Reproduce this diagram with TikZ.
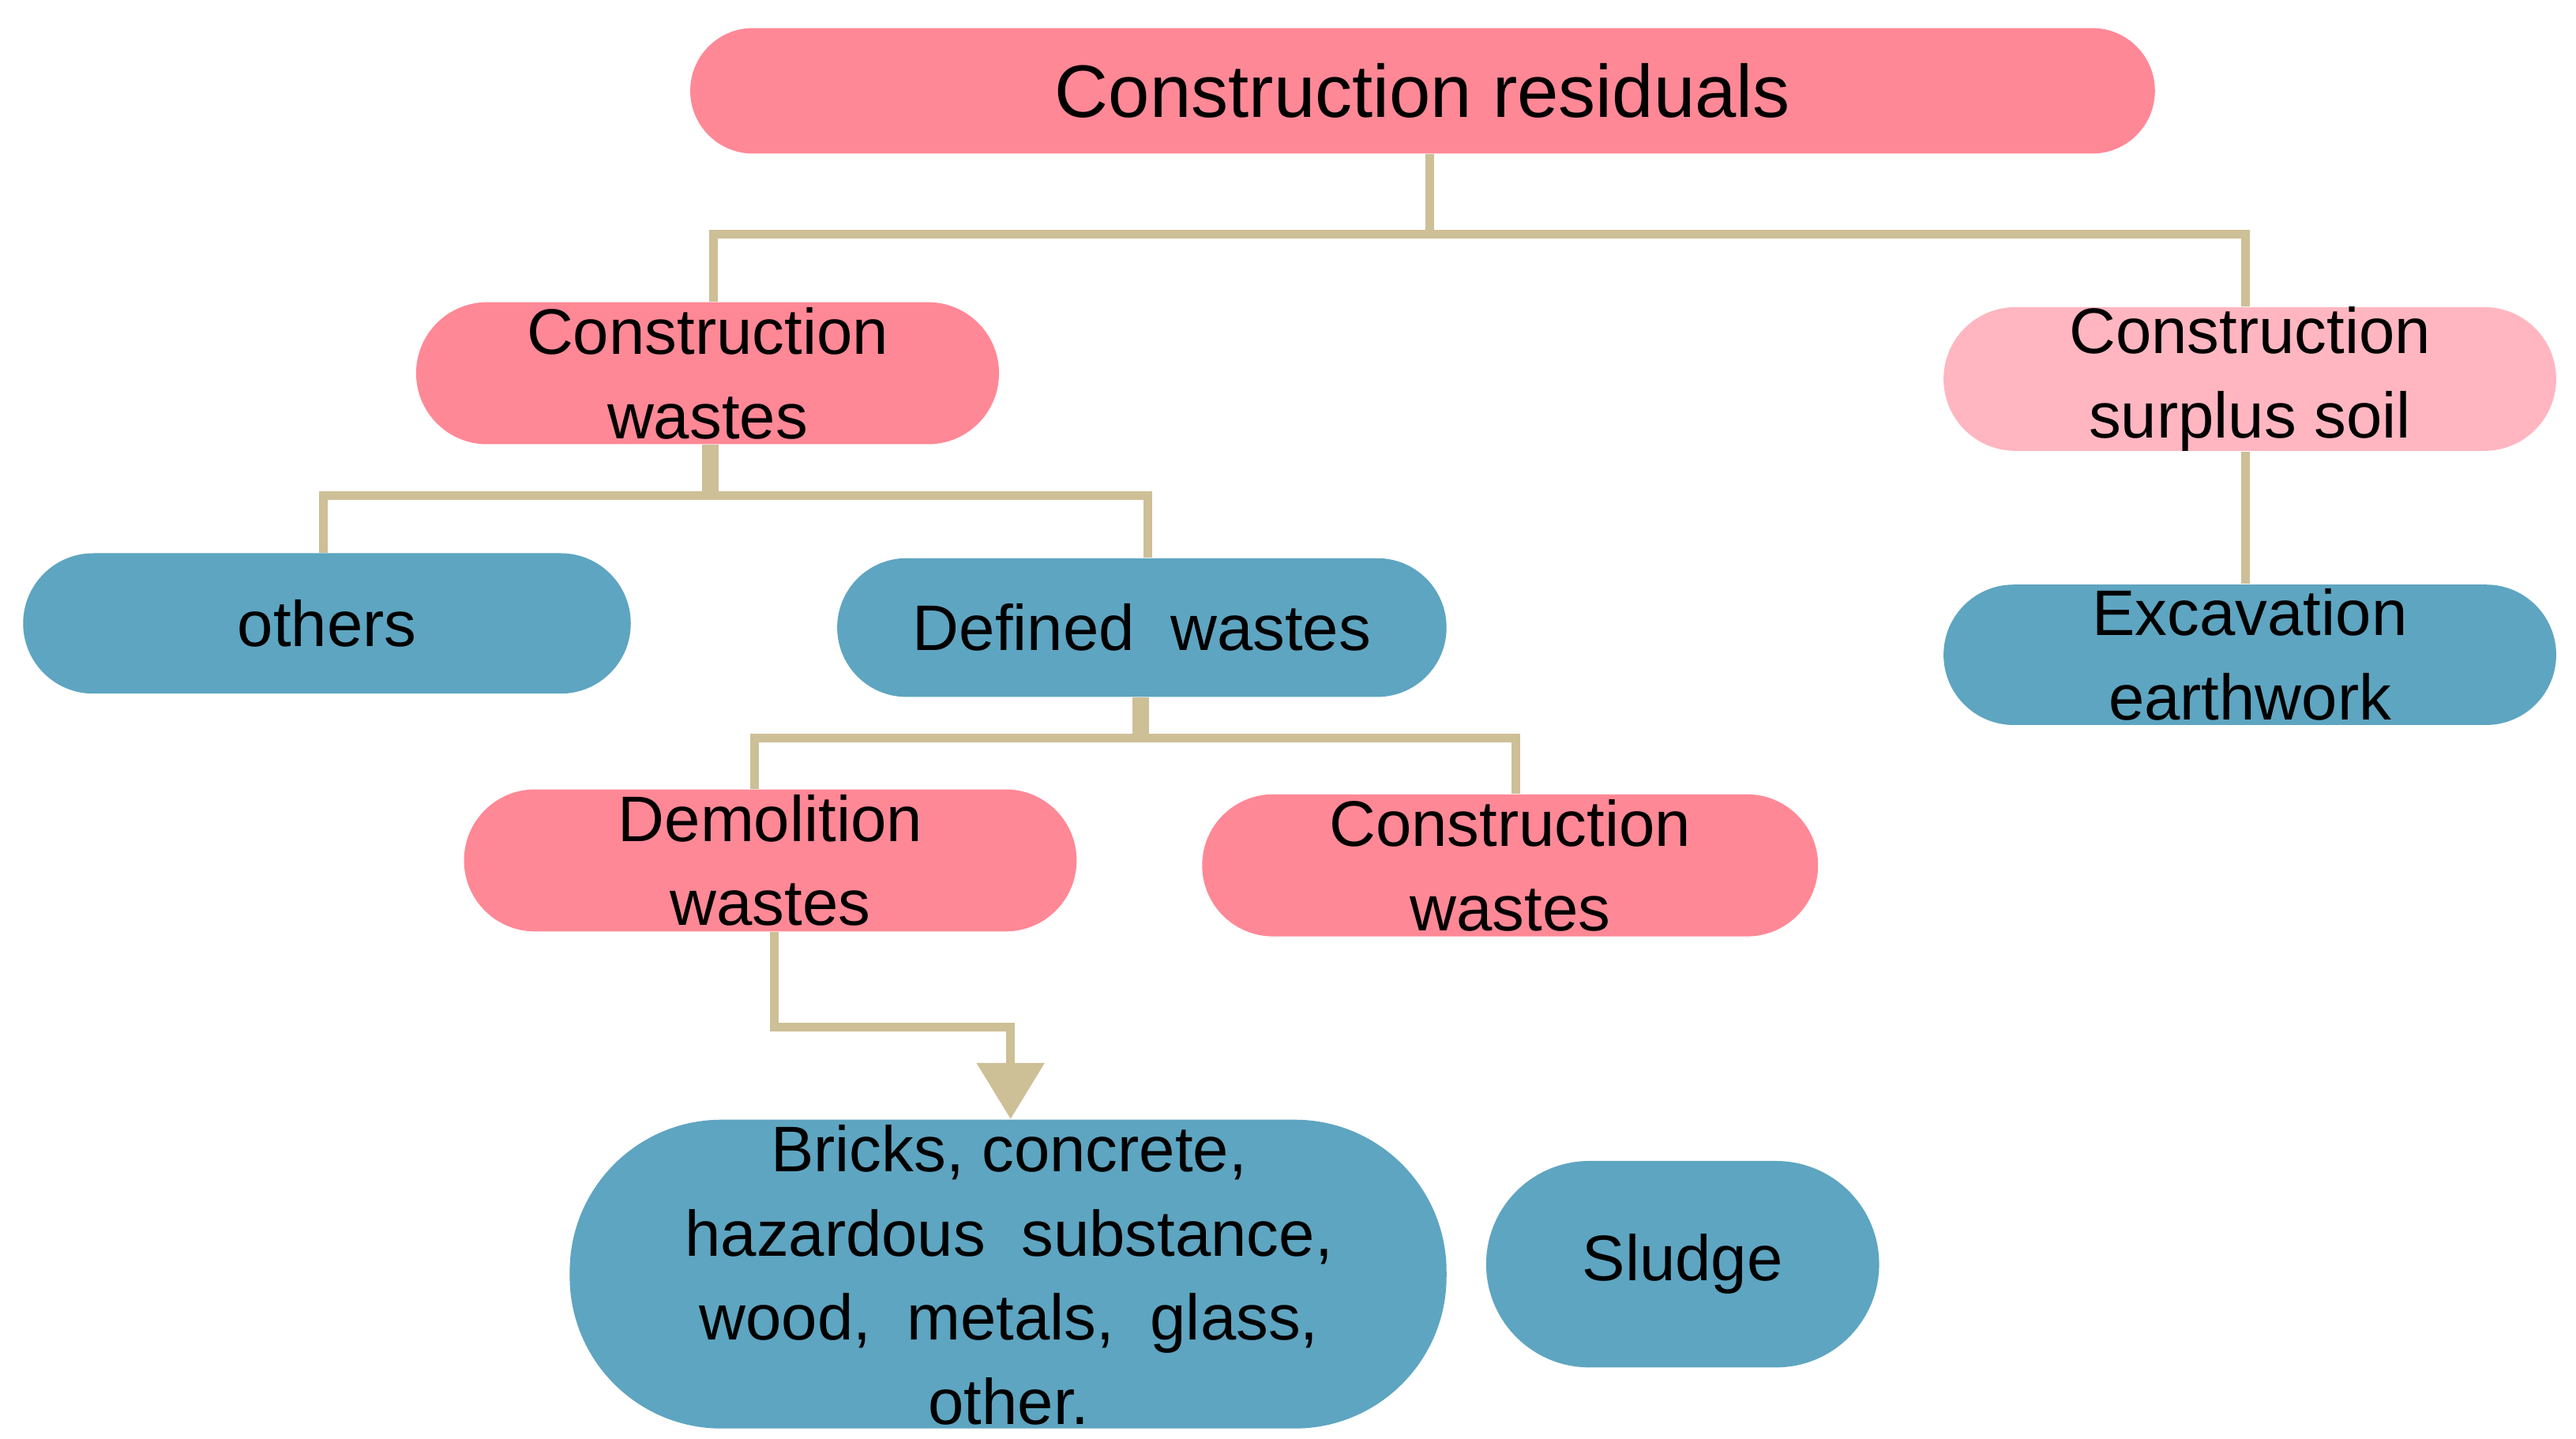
\documentclass[tikz,border=0pt]{standalone}
\usepackage{fontspec}
\setmainfont{Liberation Sans}
\usetikzlibrary{arrows.meta}
\definecolor{pk}{HTML}{FF8896}
\definecolor{lpk}{HTML}{FFB6C1}
\definecolor{bl}{HTML}{5EA5C1}
\definecolor{tan}{HTML}{CDBF96}
\tikzset{
 box/.style={draw=none,rounded corners=20pt,inner sep=0pt},
 lbl/.style={align=center,font=\fontsize{19.5}{25.5}\selectfont,inner sep=0pt},
 con/.style={draw=tan,line width=2.6pt}
}
\newcommand{\bx}[7]{% name, x1,y1,x2,y2, color, text
 \node[box,fill=#6,minimum width={(#4-#2)*0.5pt},minimum height={(#5-#3)*0.5pt},rounded corners={(#5-#3)*0.25pt}] (#1) at ({(#2+#4)/2},{(#3+#5)/2}) {};
 \node[lbl] (#1t) at (#1.center) {#7};}
\begin{document}
\begin{tikzpicture}[x=0.5pt,y=-0.5pt]
\useasboundingbox[fill=white] (0,0) rectangle (1560,871);
\bx{root}{418}{17}{1305}{93}{pk}{\fontsize{22.5}{26}\selectfont Construction residuals}
\bx{cw}{252}{183}{605}{269}{pk}{Construction\\wastes}
\bx{soil}{1177}{186}{1548}{273}{lpk}{Construction\\surplus soil}
\bx{oth}{14}{335}{382}{420}{bl}{others}
\bx{def}{507}{338}{876}{422}{bl}{Defined\ \ wastes}
\bx{exc}{1177}{354}{1548}{439}{bl}{Excavation\\earthwork}
\bx{dem}{281}{478}{652}{564}{pk}{Demolition\\wastes}
\bx{cw2}{728}{481}{1101}{567}{pk}{Construction\\wastes}
\node[box,fill=bl,minimum width=265.5pt,minimum height=93.5pt,rounded corners=46pt] (bri) at (610.5,771.5) {};
\node[lbl] (brit) at (611,772) {Bricks, concrete,\\hazardous\ \ substance,\\wood,\ \ metals,\ \ glass,\\other.};
\bx{slu}{900}{703}{1138}{828}{bl}{Sludge}
\coordinate (j1) at (866,142);
\draw[con] (root.south -| j1) -- (j1);
\draw[con] (cw.north -| 432,0) |- (j1) -| (soil.north -| 1360,0);
\draw[con] (soil.south -| 1360,0) -- (exc.north -| 1360,0);
\coordinate (j2) at (430,300);
\draw[con,line width=5pt] (cw.south -| j2) -- (j2);
\draw[con] (oth.north -| 196,0) |- (j2) -| (def.north -| 695,0);
\coordinate (j3) at (691,447);
\draw[con,line width=5pt] (def.south -| j3) -- (j3);
\draw[con] (dem.north -| 457,0) |- (j3) -| (cw2.north -| 918,0);
\draw[con,-{Triangle[length=17pt,width=20pt]}] (dem.south -| 469,0) |- (612,622) -- (bri.north -| 612,0);
\end{tikzpicture}
\end{document}
